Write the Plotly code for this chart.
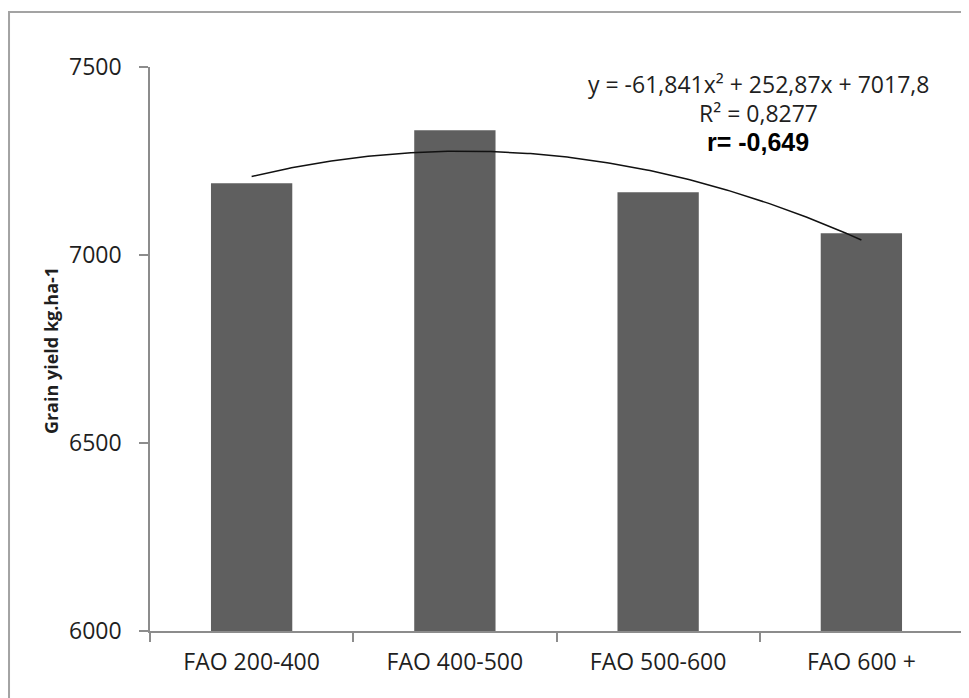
import numpy as np
import plotly.graph_objects as go

categories = ["FAO 200-400", "FAO 400-500", "FAO 500-600", "FAO 600 +"]
grain_yield = [7191, 7332, 7167, 7058]
# trendline coefficients as printed on the chart: y = a x^2 + b x + c
trend_coefs = [-61.841, 252.87, 7017.8]
y_ticks = [6000, 6500, 7000, 7500]

FONT = "Open Sans"
TXT = "#1f1f1f"

xs = np.linspace(1, len(categories), 200)
ys = np.polyval(trend_coefs, xs)

fig = go.Figure()
fig.add_trace(go.Bar(x=categories, y=grain_yield, marker=dict(color="#5f5f5f", line=dict(width=0)),
                     showlegend=False, hoverinfo="x+y"))
fig.add_trace(go.Scatter(x=xs, y=ys, mode="lines", xaxis="x2", yaxis="y",
                         line=dict(color="#111111", width=1.5), showlegend=False, hoverinfo="skip"))

fig.update_layout(
    width=961, height=690,
    margin=dict(l=142, r=6, t=59, b=67),
    paper_bgcolor="white", plot_bgcolor="white",
    bargap=0.6,
    font=dict(family=FONT, color=TXT, size=23),
    xaxis=dict(type="category", range=[-0.5, 3.5], showline=True, linecolor="#8c8c8c", linewidth=1.5,
               ticks="outside", tickson="boundaries", ticklen=9, tickcolor="#8c8c8c", tickwidth=1.5,
               showgrid=False, zeroline=False, tickfont=dict(size=23, family=FONT, color=TXT),
               ticklabelstandoff=10),
    xaxis2=dict(range=[0.5, 4.5], overlaying="x", visible=False),
    yaxis=dict(range=[6000, 7500], tickvals=y_ticks, showline=True, linecolor="#8c8c8c", linewidth=1.5,
               ticks="outside", ticklen=9, tickcolor="#8c8c8c", tickwidth=1.5,
               showgrid=False, zeroline=False, tickfont=dict(size=23, family=FONT, color=TXT),
               ticklabelstandoff=13),
    shapes=[dict(type="rect", xref="paper", yref="paper", x0=-0.1734, x1=1.05, y0=-0.2, y1=1.0975,
                 line=dict(color="#a3a3a3", width=2), layer="below")],
    annotations=[
        dict(text="<b>Grain yield kg.ha-1</b>", xref="paper", yref="paper", x=-0.1218, y=0.498, textangle=-90,
             showarrow=False, font=dict(family=FONT, size=18, color=TXT), xanchor="center", yanchor="middle"),
        dict(text="y = -61,841x² + 252,87x + 7017,8", xref="paper", yref="paper", x=0.748, y=0.970,
             showarrow=False, font=dict(family=FONT, size=23, color=TXT), xanchor="center", yanchor="middle"),
        dict(text="R² = 0,8277", xref="paper", yref="paper", x=0.748, y=0.918,
             showarrow=False, font=dict(family=FONT, size=23, color=TXT), xanchor="center", yanchor="middle"),
        dict(text="<b>r= -0,649</b>", xref="paper", yref="paper", x=0.748, y=0.867,
             showarrow=False, font=dict(family="Liberation Sans", size=25, color="#000000"),
             xanchor="center", yanchor="middle"),
    ],
)

fig.write_html("out.html")
